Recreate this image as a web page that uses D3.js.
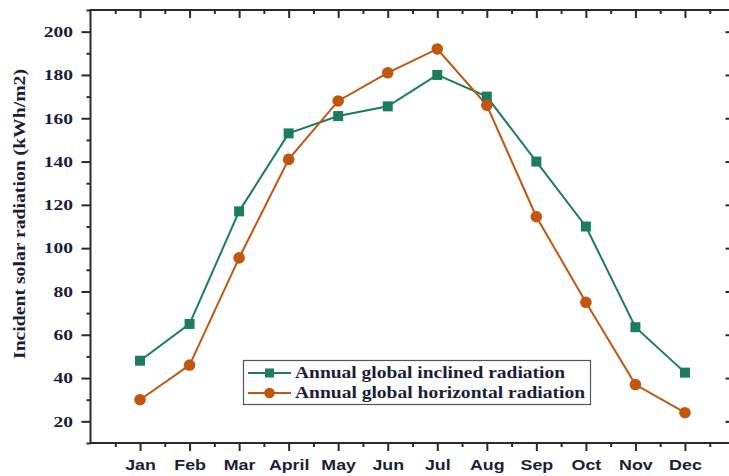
<!DOCTYPE html>
<html><head><meta charset="utf-8">
<script src="https://cdn.jsdelivr.net/npm/d3@7"></script>
<style>body{margin:0;background:#fff}svg{display:block}</style>
</head><body>
<svg id="c" width="729" height="476"></svg>
<script>
const months = ["Jan","Feb","Mar","April","May","Jun","Jul","Aug","Sep","Oct","Nov","Dec"];
const inclined = [48, 65, 117, 153, 161, 165.5, 180, 170, 140, 110, 63.5, 42.5];
const horizontal = [30, 46, 95.5, 141, 168, 181, 192, 166, 114.5, 75, 37, 24];
const yTicks = [20, 40, 60, 80, 100, 120, 140, 160, 180, 200];
const seriesNames = ["Annual global inclined radiation", "Annual global horizontal radiation"];
const colors = ["#1b7d5c", "#c2560f"];

const svg = d3.select("#c");
const L = 90.5, R = 734.5, T = 10, B = 443;
const x = d3.scaleLinear().domain([-1, 12]).range([L, R]);
const y = d3.scaleLinear().domain([10, 210]).range([B, T]);
const axisColor = "#2a2a2a";
const txtColor = "#1d1d38";
const serif = "'Liberation Serif', 'Times New Roman', serif";

// frame
svg.append("rect").attr("x", L).attr("y", T).attr("width", R - L).attr("height", B - T)
  .attr("fill", "none").attr("stroke", axisColor).attr("stroke-width", 2);

const majX = d3.range(0, 13), minX = d3.range(-0.5, 12, 1);
const majY = d3.range(20, 211, 20), minY = d3.range(10, 211, 20);
const styleTicks = g => { g.select(".domain").remove(); g.selectAll(".tick line").attr("stroke", axisColor).attr("stroke-width", 2); };

// bottom axis
const gB = svg.append("g").attr("transform", `translate(0,${B})`)
  .call(d3.axisBottom(x).tickValues(majX.slice(0, 12)).tickSize(8).tickFormat(i => months[i]))
  .call(styleTicks);
gB.selectAll(".tick text").attr("dy", 0).attr("y", 27).attr("transform", "scale(1.15,1)")
  .style("font-family", "'Liberation Sans', Arial, sans-serif").style("font-weight", "bold")
  .style("font-size", "15.5px").attr("fill", txtColor);
svg.append("g").attr("transform", `translate(0,${B})`)
  .call(d3.axisBottom(x).tickValues(minX).tickSize(4).tickFormat("")).call(styleTicks);

// top axis (inward ticks)
svg.append("g").attr("transform", `translate(0,${T})`)
  .call(d3.axisTop(x).tickValues(majX).tickSize(-8).tickFormat("")).call(styleTicks);
svg.append("g").attr("transform", `translate(0,${T})`)
  .call(d3.axisTop(x).tickValues(minX).tickSize(-4).tickFormat("")).call(styleTicks);

// left axis
const sY = 1.3;
const gL = svg.append("g").attr("transform", `translate(${L},0)`)
  .call(d3.axisLeft(y).tickValues(yTicks).tickSize(9)).call(styleTicks);
gL.selectAll(".tick text").attr("x", -17.5 / sY).attr("transform", `scale(${sY},1)`)
  .style("font-family", serif).style("font-weight", "bold")
  .style("font-size", "15px").attr("fill", txtColor);
svg.append("g").attr("transform", `translate(${L},0)`)
  .call(d3.axisLeft(y).tickValues(minY).tickSize(4).tickFormat("")).call(styleTicks);

// right axis (inward)
svg.append("g").attr("transform", `translate(${R},0)`)
  .call(d3.axisRight(y).tickValues(majY).tickSize(-9).tickFormat("")).call(styleTicks);

// y title
svg.append("text").attr("transform", `translate(25,214) rotate(-90)`)
  .attr("text-anchor", "middle")
  .style("font-family", serif).style("font-weight", "bold")
  .style("font-size", "16.5px").attr("fill", txtColor)
  .attr("textLength", 290).attr("lengthAdjust", "spacingAndGlyphs")
  .text("Incident solar radiation (kWh/m2)");

// lines
const line = d3.line().x((d, i) => x(i)).y(d => y(d));
[inclined, horizontal].forEach((data, s) => {
  svg.append("path").datum(data).attr("d", line).attr("fill", "none")
    .attr("stroke", colors[s]).attr("stroke-width", 2);
});
// markers
svg.append("g").selectAll("rect").data(inclined).join("rect")
  .attr("x", (d, i) => x(i) - 5).attr("y", d => y(d) - 5).attr("width", 10).attr("height", 10)
  .attr("fill", colors[0]);
svg.append("g").selectAll("circle").data(horizontal).join("circle")
  .attr("cx", (d, i) => x(i)).attr("cy", d => y(d)).attr("r", 5.8).attr("fill", colors[1]);

// legend
const lg = svg.append("g");
lg.append("rect").attr("x", 243.5).attr("y", 360.5).attr("width", 347).attr("height", 44)
  .attr("fill", "#fff").attr("stroke", "#555").attr("stroke-width", 1.2);
const legendLen = [270, 290];
seriesNames.forEach((name, s) => {
  const yy = 373 + s * 20;
  lg.append("line").attr("x1", 248).attr("x2", 291).attr("y1", yy).attr("y2", yy)
    .attr("stroke", colors[s]).attr("stroke-width", 2);
  if (s === 0) lg.append("rect").attr("x", 265).attr("y", yy - 4.5).attr("width", 9).attr("height", 9).attr("fill", colors[0]);
  else lg.append("circle").attr("cx", 269.5).attr("cy", yy).attr("r", 5.3).attr("fill", colors[1]);
  lg.append("text").attr("x", 295).attr("y", yy + 5)
    .style("font-family", serif).style("font-weight", "bold")
    .style("font-size", "16px").attr("fill", txtColor)
    .attr("textLength", legendLen[s]).attr("lengthAdjust", "spacingAndGlyphs").text(name);
});
</script>
</body></html>
